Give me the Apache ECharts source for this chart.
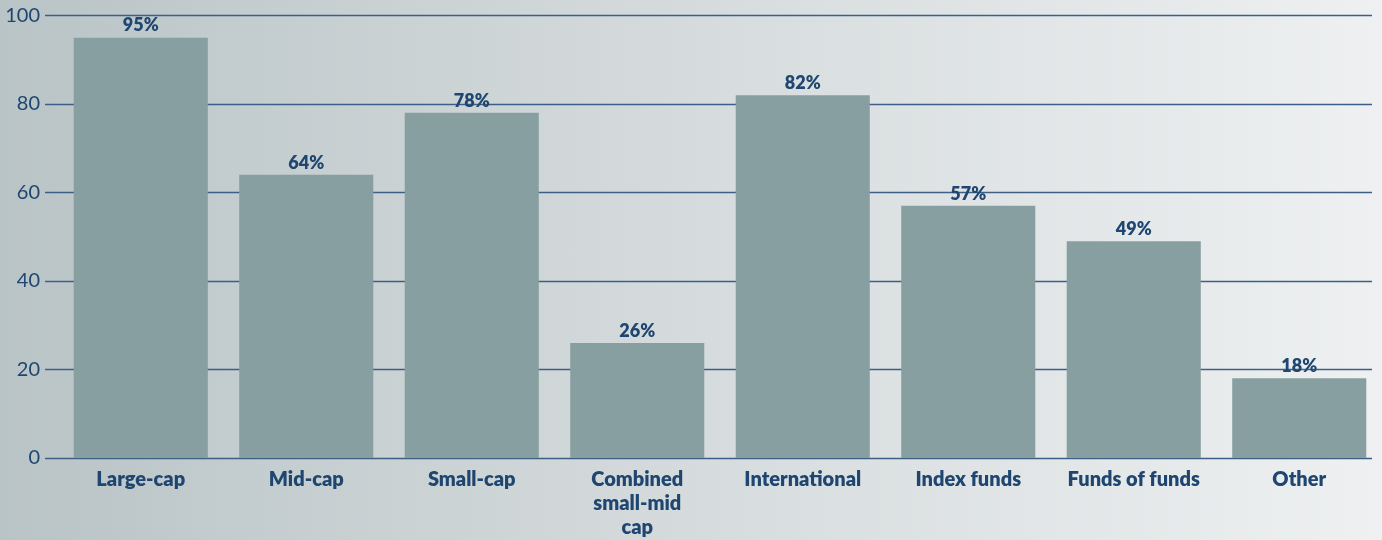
<!DOCTYPE html>
<html>
<head>
<meta charset="utf-8">
<script src="https://cdn.jsdelivr.net/npm/echarts@6/dist/echarts.min.js"></script>
<style>
  html, body { margin: 0; padding: 0; }
  #chart {
    width: 1382px;
    height: 540px;
    background: linear-gradient(to right, #b9c4c6 0%, #d3d9db 45%, #eef0f1 100%);
  }
</style>
</head>
<body>
<div id="chart"></div>
<script>
// categories and values
var categories = ['Large-cap', 'Mid-cap', 'Small-cap', 'Combined\nsmall-mid\ncap', 'International', 'Index funds', 'Funds of funds', 'Other'];
var shares = [95, 64, 78, 26, 82, 57, 49, 18];
var yTicks = [0, 20, 40, 60, 80, 100];

var navy = '#1f4670';
var lineCol = '#3d5f86';
var font = 'Lato, "Open Sans", sans-serif';

var chart = echarts.init(document.getElementById('chart'));

chart.setOption({
  animation: false,
  grid: [
    // background grid: y labels + horizontal lines
    { left: 45, right: 10, top: 15.5, bottom: 82, containLabel: false },
    // bars
    { left: 58, right: 0, top: 15.5, bottom: 82, containLabel: false }
  ],
  xAxis: [
    {
      gridIndex: 0, type: 'category', data: [''],
      axisLine: { show: false }, axisTick: { show: false }, axisLabel: { show: false }
    },
    {
      gridIndex: 1, type: 'category', data: categories,
      axisLine: { show: false }, axisTick: { show: false },
      axisLabel: {
        interval: 0, margin: 10, color: navy, fontFamily: font,
        fontWeight: 800, fontSize: 20, lineHeight: 24
      }
    }
  ],
  yAxis: [
    {
      gridIndex: 0, type: 'value', min: 0, max: 100, interval: 20,
      axisLine: { show: false }, axisTick: { show: false },
      axisLabel: {
        color: navy, fontFamily: font, fontSize: 20, margin: 5,
        formatter: function (v) { return yTicks.indexOf(v) >= 0 ? v : ''; }
      },
      splitLine: { show: true, lineStyle: { color: lineCol, width: 1.3 } }
    },
    {
      gridIndex: 1, type: 'value', min: 0, max: 100, interval: 20,
      axisLine: { show: false }, axisTick: { show: false },
      axisLabel: { show: false }, splitLine: { show: false }
    }
  ],
  series: [
    {
      type: 'bar',
      xAxisIndex: 1,
      yAxisIndex: 1,
      data: shares,
      barWidth: '81%',
      itemStyle: { color: '#879fa0' },
      label: {
        show: true,
        position: 'top',
        distance: 3,
        color: navy,
        fontFamily: font,
        fontWeight: 800,
        fontSize: 18,
        formatter: '{c}%'
      }
    }
  ]
});
</script>
</body>
</html>
